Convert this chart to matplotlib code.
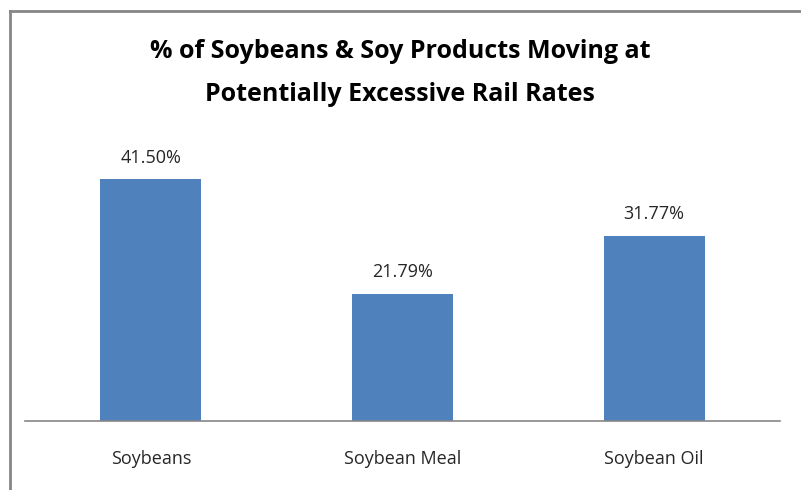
import matplotlib.pyplot as plt
from matplotlib.lines import Line2D

categories = ["Soybeans", "Soybean Meal", "Soybean Oil"]
values = [41.50, 21.79, 31.77]
value_labels = ["41.50%", "21.79%", "31.77%"]
title = "% of Soybeans & Soy Products Moving at\nPotentially Excessive Rail Rates"

W, H = 801, 490
fig = plt.figure(figsize=(W / 100, H / 100), dpi=100)
fig.patch.set_facecolor("white")

# chart border (only top and left visible in the crop)
fig.add_artist(Line2D([10 / W, 10 / W], [0, 1 - 11 / H], transform=fig.transFigure,
                      color="#868686", lw=2))
fig.add_artist(Line2D([10 / W, 1], [1 - 11 / H, 1 - 11 / H], transform=fig.transFigure,
                      color="#868686", lw=2))

ax = fig.add_axes([25 / W, (H - 421) / H, 755 / W, (421 - 140) / H])
x = range(len(categories))
bars = ax.bar(x, values, width=0.40, color="#4F81BD")
ax.set_xlim(-0.5, 2.5)
ax.set_ylim(0, 48.28)

for b, lab in zip(bars, value_labels):
    ax.text(b.get_x() + b.get_width() / 2, b.get_height() + 2.2, lab,
            ha="center", va="bottom", fontsize=13, family="Open Sans", color="#262626")

for s in ["top", "right", "left"]:
    ax.spines[s].set_visible(False)
ax.spines["bottom"].set_color("#868686")
ax.spines["bottom"].set_linewidth(1.2)
ax.set_yticks([])
ax.set_xticks(list(x))
ax.set_xticklabels(categories, fontsize=13, family="Open Sans", color="#262626")
ax.tick_params(axis="x", length=0, pad=21)

fig.text(400 / W, 1 - 73 / H, title, ha="center", va="center", fontsize=18,
         fontweight="bold", family="Open Sans", linespacing=1.95)

fig.savefig("out.png", dpi=100)
